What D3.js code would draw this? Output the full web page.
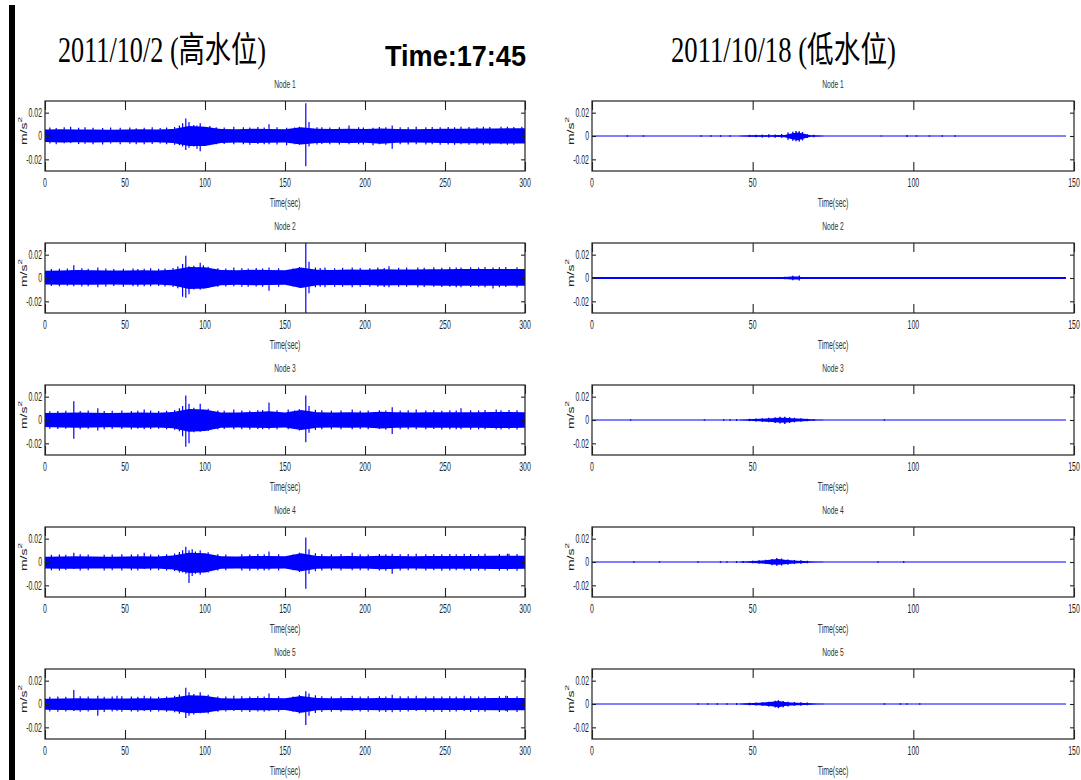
<!DOCTYPE html>
<html>
<head>
<meta charset="utf-8">
<script src="https://cdn.jsdelivr.net/npm/d3@7"></script>
<style>
  body { margin: 0; background: #fff; }
  svg { display: block; }
</style>
</head>
<body>
<svg id="chart" width="1081" height="780"></svg>
<script>
// ---------- acceleration records (m/s^2) ----------
// 2011/10/2 high-water record: envelope of the signal every 10 s, plus individual peaks
const envTimes = [0,10,20,30,40,50,60,70,80,90,100,110,120,130,140,150,160,170,180,190,200,210,220,230,240,250,260,270,280,290,300];

const hiN1 = [0.0055,0.0058,0.0056,0.0055,0.0054,0.0056,0.0057,0.0055,0.0060,0.0085,0.0080,0.0060,0.0058,0.0062,0.0060,0.0058,0.0075,0.0062,0.0060,0.0062,0.0060,0.0064,0.0060,0.0058,0.0060,0.0062,0.0063,0.0064,0.0065,0.0066,0.0066];
const loN1 = [-0.0052,-0.0055,-0.0054,-0.0055,-0.0053,-0.0054,-0.0055,-0.0054,-0.0060,-0.0085,-0.0085,-0.0060,-0.0056,-0.0060,-0.0058,-0.0056,-0.0072,-0.0060,-0.0058,-0.0060,-0.0058,-0.0066,-0.0058,-0.0056,-0.0058,-0.0060,-0.0062,-0.0062,-0.0064,-0.0064,-0.0064];
const hiN2 = [0.0062,0.0065,0.0068,0.0066,0.0064,0.0065,0.0066,0.0064,0.0070,0.0095,0.0092,0.0068,0.0066,0.0070,0.0068,0.0066,0.0090,0.0070,0.0068,0.0072,0.0070,0.0075,0.0072,0.0072,0.0074,0.0076,0.0077,0.0078,0.0078,0.0078,0.0078];
const loN2 = [-0.0055,-0.0058,-0.0058,-0.0057,-0.0056,-0.0057,-0.0058,-0.0056,-0.0065,-0.0095,-0.0090,-0.0062,-0.0058,-0.0062,-0.0060,-0.0058,-0.0085,-0.0062,-0.0060,-0.0062,-0.0060,-0.0064,-0.0062,-0.0062,-0.0064,-0.0066,-0.0066,-0.0066,-0.0067,-0.0066,-0.0066];
const hiN3 = [0.0060,0.0062,0.0064,0.0062,0.0060,0.0062,0.0064,0.0062,0.0068,0.0095,0.0090,0.0065,0.0064,0.0068,0.0075,0.0064,0.0085,0.0066,0.0064,0.0066,0.0064,0.0070,0.0066,0.0064,0.0066,0.0066,0.0066,0.0066,0.0068,0.0068,0.0066];
const loN3 = [-0.0060,-0.0064,-0.0066,-0.0064,-0.0062,-0.0064,-0.0066,-0.0064,-0.0070,-0.0100,-0.0095,-0.0066,-0.0064,-0.0066,-0.0068,-0.0064,-0.0085,-0.0066,-0.0064,-0.0066,-0.0064,-0.0072,-0.0066,-0.0064,-0.0066,-0.0066,-0.0066,-0.0066,-0.0068,-0.0068,-0.0066];
const hiN4 = [0.0045,0.0048,0.0050,0.0048,0.0046,0.0048,0.0050,0.0048,0.0055,0.0080,0.0075,0.0050,0.0048,0.0052,0.0052,0.0050,0.0075,0.0052,0.0050,0.0052,0.0050,0.0054,0.0052,0.0050,0.0052,0.0052,0.0052,0.0052,0.0054,0.0054,0.0054];
const loN4 = [-0.0055,-0.0058,-0.0058,-0.0056,-0.0055,-0.0056,-0.0058,-0.0056,-0.0065,-0.0095,-0.0090,-0.0058,-0.0056,-0.0058,-0.0058,-0.0056,-0.0080,-0.0058,-0.0056,-0.0058,-0.0056,-0.0062,-0.0058,-0.0056,-0.0058,-0.0058,-0.0058,-0.0058,-0.0060,-0.0060,-0.0058];
const hiN5 = [0.0045,0.0048,0.0050,0.0048,0.0047,0.0048,0.0050,0.0048,0.0055,0.0075,0.0070,0.0050,0.0048,0.0052,0.0052,0.0050,0.0068,0.0052,0.0050,0.0052,0.0050,0.0052,0.0050,0.0050,0.0050,0.0050,0.0050,0.0050,0.0052,0.0052,0.0052];
const loN5 = [-0.0050,-0.0052,-0.0054,-0.0052,-0.0050,-0.0052,-0.0054,-0.0052,-0.0058,-0.0080,-0.0075,-0.0054,-0.0052,-0.0054,-0.0054,-0.0052,-0.0075,-0.0054,-0.0052,-0.0054,-0.0052,-0.0054,-0.0052,-0.0052,-0.0052,-0.0052,-0.0052,-0.0052,-0.0054,-0.0054,-0.0054];

// large isolated peaks: [time s, max, min]
const peaksN1 = [[16,.008,-.006],[30,.007,-.007],[62,.007,-.007],[86,.011,-.009],[88,.015,-.012],[90,.012,-.010],[95,.009,-.011],[97,.011,-.013],[118,.008,-.007],[140,.010,-.007],[151,.007,-.008],[163,.028,-.026],[165,.012,-.009],[190,.009,-.007],[205,.007,-.008],[217,.009,-.011],[232,.008,-.007],[260,.008,-.007],[285,.008,-.007],[298,.008,-.006]];
const peaksN2 = [[18,.011,-.007],[33,.009,-.008],[62,.008,-.007],[86,.012,-.016],[88,.019,-.017],[90,.010,-.014],[97,.013,-.010],[99,.011,-.009],[118,.009,-.007],[140,.009,-.011],[163,.030,-.030],[165,.014,-.013],[175,.009,-.008],[192,.009,-.008],[215,.010,-.008],[233,.009,-.008],[260,.009,-.008],[280,.009,-.009]];
const peaksN3 = [[18,.016,-.016],[33,.010,-.009],[62,.009,-.008],[86,.012,-.014],[88,.021,-.023],[90,.014,-.020],[97,.014,-.010],[118,.009,-.008],[140,.015,-.008],[152,.009,-.008],[163,.021,-.019],[165,.012,-.011],[192,.009,-.008],[217,.011,-.012],[232,.009,-.008],[260,.010,-.008],[282,.009,-.008]];
const peaksN4 = [[18,.008,-.006],[62,.008,-.006],[86,.010,-.009],[88,.013,-.010],[90,.010,-.018],[92,.011,-.012],[97,.010,-.011],[140,.009,-.007],[163,.021,-.023],[165,.011,-.010],[192,.008,-.007],[217,.007,-.010],[232,.007,-.007],[262,.007,-.007],[290,.007,-.006]];
const peaksN5 = [[18,.012,-.006],[33,.007,-.010],[45,.007,-.006],[62,.007,-.006],[88,.014,-.012],[90,.010,-.010],[97,.010,-.008],[118,.007,-.006],[140,.009,-.006],[163,.011,-.018],[165,.009,-.010],[192,.007,-.006],[217,.008,-.007],[232,.007,-.006],[262,.007,-.006],[288,.007,-.006]];

// small excursions just outside the envelope: [time s, max, min]
const fringeN1 = [[3,.0072,-.0065],[7,.0068,-.0070],[12,.0075,-.0062],[21,.0070,-.0068],[25,.0074,-.0066],[36,.0068,-.0072],[41,.0073,-.0064],[47,.0070,-.0070],[53,.0072,-.0066],[57,.0066,-.0071],[67,.0074,-.0068],[72,.0069,-.0065],[76,.0072,-.0070],[81,.0078,-.0074],[84,.0090,-.0080],[93,.0095,-.0090],[103,.0085,-.0078],[107,.0074,-.0070],[112,.0072,-.0068],[124,.0075,-.0070],[128,.0072,-.0074],[133,.0078,-.0068],[137,.0072,-.0070],[145,.0074,-.0072],[156,.0072,-.0070],[159,.0080,-.0074],[170,.0076,-.0072],[173,.0074,-.0068],[178,.0072,-.0070],[184,.0076,-.0072],[196,.0074,-.0070],[199,.0072,-.0072],[209,.0078,-.0070],[213,.0074,-.0076],[222,.0074,-.0070],[227,.0076,-.0072],[238,.0074,-.0072],[242,.0078,-.0070],[247,.0074,-.0074],[252,.0078,-.0072],[256,.0076,-.0074],[265,.0078,-.0074],[270,.0076,-.0072],[274,.0080,-.0074],[278,.0078,-.0076],[289,.0080,-.0074],[293,.0078,-.0076]];
const fringeN2 = [[4,.0078,-.0068],[9,.0080,-.0070],[14,.0082,-.0066],[23,.0084,-.0072],[27,.0080,-.0070],[38,.0082,-.0072],[43,.0078,-.0068],[49,.0080,-.0074],[55,.0082,-.0070],[58,.0078,-.0072],[66,.0084,-.0070],[71,.0080,-.0068],[75,.0082,-.0072],[80,.0086,-.0078],[83,.0098,-.0088],[93,.0104,-.0098],[102,.0096,-.0086],[108,.0084,-.0074],[113,.0082,-.0072],[123,.0084,-.0074],[127,.0082,-.0076],[132,.0086,-.0072],[136,.0082,-.0074],[146,.0084,-.0074],[155,.0082,-.0072],[159,.0094,-.0084],[169,.0090,-.0080],[172,.0086,-.0076],[181,.0084,-.0074],[186,.0088,-.0076],[197,.0086,-.0074],[203,.0084,-.0076],[208,.0090,-.0076],[212,.0086,-.0078],[221,.0088,-.0076],[226,.0090,-.0074],[237,.0088,-.0078],[243,.0092,-.0076],[248,.0088,-.0078],[253,.0092,-.0076],[257,.0090,-.0080],[266,.0092,-.0078],[271,.0090,-.0076],[275,.0094,-.0080],[284,.0092,-.0080],[288,.0094,-.0078],[295,.0092,-.0080]];
const fringeN3 = [[3,.0076,-.0074],[8,.0078,-.0078],[13,.0080,-.0074],[22,.0078,-.0080],[27,.0082,-.0076],[37,.0078,-.0080],[42,.0080,-.0078],[48,.0082,-.0078],[54,.0078,-.0080],[58,.0080,-.0076],[66,.0082,-.0078],[71,.0078,-.0076],[76,.0080,-.0080],[81,.0086,-.0084],[84,.0100,-.0096],[93,.0104,-.0104],[102,.0096,-.0094],[108,.0082,-.0080],[112,.0080,-.0078],[123,.0082,-.0080],[128,.0080,-.0082],[133,.0084,-.0078],[136,.0086,-.0080],[145,.0084,-.0080],[156,.0082,-.0078],[159,.0092,-.0090],[169,.0088,-.0086],[173,.0084,-.0080],[179,.0080,-.0080],[185,.0082,-.0080],[197,.0080,-.0078],[202,.0082,-.0080],[209,.0084,-.0078],[213,.0082,-.0084],[222,.0082,-.0080],[227,.0084,-.0080],[238,.0082,-.0080],[243,.0084,-.0078],[248,.0080,-.0082],[253,.0084,-.0080],[257,.0082,-.0080],[266,.0084,-.0082],[271,.0082,-.0080],[275,.0086,-.0080],[285,.0084,-.0082],[290,.0086,-.0080],[295,.0084,-.0082]];
const fringeN4 = [[4,.0062,-.0070],[9,.0064,-.0072],[13,.0062,-.0068],[22,.0066,-.0072],[27,.0064,-.0070],[37,.0062,-.0072],[42,.0064,-.0070],[48,.0066,-.0072],[54,.0064,-.0070],[58,.0066,-.0072],[66,.0064,-.0070],[71,.0062,-.0070],[76,.0066,-.0072],[81,.0072,-.0078],[84,.0086,-.0090],[94,.0090,-.0100],[102,.0084,-.0090],[108,.0066,-.0072],[113,.0064,-.0070],[123,.0066,-.0072],[128,.0064,-.0074],[133,.0068,-.0070],[137,.0066,-.0072],[146,.0066,-.0072],[155,.0064,-.0070],[159,.0080,-.0086],[169,.0076,-.0080],[173,.0068,-.0072],[179,.0066,-.0070],[185,.0068,-.0072],[197,.0066,-.0070],[202,.0064,-.0072],[209,.0068,-.0072],[213,.0066,-.0074],[222,.0066,-.0072],[227,.0068,-.0070],[238,.0066,-.0072],[243,.0068,-.0070],[248,.0066,-.0074],[253,.0068,-.0072],[257,.0066,-.0070],[266,.0068,-.0074],[271,.0066,-.0072],[275,.0070,-.0072],[284,.0068,-.0074],[289,.0070,-.0072],[295,.0068,-.0074]];
const fringeN5 = [[3,.0062,-.0064],[8,.0064,-.0066],[13,.0062,-.0064],[22,.0066,-.0066],[27,.0064,-.0064],[37,.0062,-.0068],[42,.0064,-.0064],[48,.0066,-.0066],[54,.0064,-.0064],[58,.0062,-.0066],[66,.0064,-.0066],[71,.0062,-.0064],[76,.0064,-.0066],[81,.0070,-.0070],[84,.0082,-.0084],[93,.0086,-.0090],[102,.0080,-.0082],[108,.0064,-.0066],[113,.0064,-.0064],[123,.0066,-.0066],[128,.0064,-.0068],[133,.0066,-.0064],[137,.0064,-.0066],[146,.0066,-.0066],[155,.0064,-.0066],[159,.0078,-.0082],[169,.0074,-.0078],[173,.0066,-.0068],[179,.0064,-.0066],[185,.0066,-.0066],[197,.0064,-.0064],[202,.0066,-.0066],[209,.0066,-.0066],[213,.0064,-.0068],[222,.0066,-.0066],[227,.0066,-.0064],[238,.0064,-.0066],[243,.0066,-.0066],[248,.0064,-.0068],[253,.0066,-.0066],[257,.0064,-.0064],[266,.0066,-.0068],[271,.0064,-.0066],[275,.0066,-.0066],[284,.0066,-.0068],[289,.0068,-.0066],[295,.0066,-.0068]];

// 2011/10/18 low-water record: quiet trace with one burst (envelope every 2 s) and small blips
const recordSpanHigh = [0, 300];
const recordSpanLow = [0, 147.5];
const burstTimes = [46,48,50,52,54,56,58,60,62,64,66,68,70,72];

const burstHiN1 = [0.0002,0.0004,0.0006,0.0006,0.0007,0.0007,0.0008,0.0009,0.0022,0.0030,0.0020,0.0007,0.0004,0.0002];
const burstLoN1 = [-0.0002,-0.0004,-0.0006,-0.0006,-0.0007,-0.0007,-0.0008,-0.0010,-0.0026,-0.0036,-0.0022,-0.0007,-0.0004,-0.0002];
const burstHiN2 = [0.0002,0.0002,0.0003,0.0003,0.0004,0.0005,0.0006,0.0008,0.0012,0.0012,0.0005,0.0003,0.0002,0.0002];
const burstLoN2 = [-0.0002,-0.0002,-0.0003,-0.0003,-0.0004,-0.0005,-0.0006,-0.0008,-0.0012,-0.0012,-0.0005,-0.0003,-0.0002,-0.0002];
const burstHiN3 = [0.0003,0.0005,0.0008,0.0010,0.0013,0.0016,0.0019,0.0020,0.0016,0.0013,0.0010,0.0007,0.0003,0.0002];
const burstLoN3 = [-0.0003,-0.0005,-0.0008,-0.0011,-0.0014,-0.0018,-0.0022,-0.0023,-0.0018,-0.0013,-0.0010,-0.0007,-0.0003,-0.0002];
const burstHiN4 = [0.0003,0.0005,0.0008,0.0011,0.0016,0.0022,0.0025,0.0019,0.0014,0.0011,0.0008,0.0005,0.0003,0.0002];
const burstLoN4 = [-0.0003,-0.0005,-0.0008,-0.0011,-0.0016,-0.0022,-0.0024,-0.0019,-0.0014,-0.0011,-0.0008,-0.0005,-0.0003,-0.0002];
const burstHiN5 = [0.0003,0.0006,0.0008,0.0010,0.0014,0.0020,0.0025,0.0017,0.0013,0.0010,0.0008,0.0006,0.0003,0.0002];
const burstLoN5 = [-0.0003,-0.0006,-0.0008,-0.0010,-0.0014,-0.0020,-0.0027,-0.0017,-0.0013,-0.0010,-0.0008,-0.0006,-0.0003,-0.0002];

const blipsN1 = [[11,.0006,-.0006],[16,.0006,-.0006],[34,.0006,-.0006],[37,.0006,-.0006],[40,.0007,-.0007],[43,.0006,-.0006],[49,.0010,-.0009],[51,.0011,-.0010],[53,.0012,-.0013],[55,.0014,-.0012],[57,.0013,-.0014],[59,.0017,-.0015],[61,.0030,-.0032],[62.5,.0036,-.0040],[63.5,.0042,-.0046],[64.5,.0040,-.0048],[65.5,.0034,-.0038],[67,.0016,-.0018],[69,.0011,-.0010],[90,.0005,-.0005],[98,.0008,-.0008],[101,.0006,-.0006],[105,.0006,-.0006],[109,.0006,-.0006],[113,.0007,-.0007]];
const blipsN2 = [[56,.0008,-.0008],[58,.0009,-.0009],[60,.0010,-.0010],[62.5,.0020,-.0020],[64.5,.0021,-.0021],[74,.0006,-.0006],[98,.0006,-.0006]];
const blipsN3 = [[12,.0006,-.0006],[35,.0006,-.0006],[41,.0007,-.0007],[43,.0007,-.0007],[45,.0008,-.0008],[49,.0011,-.0010],[51,.0013,-.0012],[53,.0015,-.0016],[55,.0019,-.0020],[57,.0024,-.0026],[58.5,.0028,-.0031],[60,.0027,-.0034],[61.5,.0024,-.0026],[63,.0019,-.0020],[65,.0015,-.0014],[67,.0011,-.0010],[69,.0008,-.0007],[91,.0006,-.0006]];
const blipsN4 = [[13,.0006,-.0006],[21,.0006,-.0006],[33,.0006,-.0006],[40,.0007,-.0007],[42,.0007,-.0007],[45,.0008,-.0008],[47,.0008,-.0008],[50,.0012,-.0011],[52,.0014,-.0015],[54,.0019,-.0018],[56,.0026,-.0027],[57.5,.0034,-.0033],[59,.0029,-.0030],[61,.0022,-.0023],[63,.0018,-.0017],[65,.0014,-.0014],[67,.0011,-.0010],[89,.0006,-.0006],[97,.0007,-.0007]];
const blipsN5 = [[33,.0006,-.0006],[36,.0006,-.0006],[39,.0007,-.0007],[42,.0007,-.0007],[45,.0008,-.0008],[49,.0011,-.0011],[51,.0013,-.0012],[53,.0015,-.0016],[55,.0020,-.0021],[57,.0028,-.0030],[58,.0033,-.0036],[59.5,.0026,-.0027],[61,.0020,-.0021],[63,.0017,-.0016],[65,.0014,-.0014],[67,.0012,-.0011],[91,.0006,-.0006],[96,.0007,-.0007],[98,.0007,-.0007],[102,.0006,-.0006]];

// axis ticks and labels
const xTicksHigh = [0,50,100,150,200,250,300];
const xTicksLow = [0,50,100,150];
const yTicks = [-0.02, 0, 0.02];
const yTickLabels = ["-0.02", "0", "0.02"];
const nodeNames = ["Node 1","Node 2","Node 3","Node 4","Node 5"];
const titleHigh = "2011/10/2 (高水位)";
const titleLow = "2011/10/18 (低水位)";
const timeStamp = "Time:17:45";

// ---------- layout ----------
const svg = d3.select("#chart");
const panelTop0 = 101, panelStep = 142, panelH = 70;
const colHigh = { x0: 45, x1: 525 };
const colLow = { x0: 592, x1: 1074 };
const SIG = "#0000ff";
const NARROW = 0.58;

svg.append("rect").attr("x", 9).attr("y", 5).attr("width", 6).attr("height", 775).attr("fill", "#000");

const serif = "'Liberation Serif','Noto Sans CJK TC',serif";
svg.append("text").attr("x", 58).attr("y", 62)
  .attr("font-family", serif).attr("font-size", 35)
  .attr("textLength", 208).attr("lengthAdjust", "spacingAndGlyphs")
  .attr("fill", "#000").text(titleHigh);
svg.append("text").attr("x", 671).attr("y", 62)
  .attr("font-family", serif).attr("font-size", 35)
  .attr("textLength", 225).attr("lengthAdjust", "spacingAndGlyphs")
  .attr("fill", "#000").text(titleLow);
svg.append("text").attr("x", 385).attr("y", 66)
  .attr("font-family", "'Liberation Sans',Arial,sans-serif").attr("font-weight", "bold").attr("font-size", 30)
  .attr("textLength", 141).attr("lengthAdjust", "spacingAndGlyphs")
  .attr("fill", "#000").text(timeStamp);

function narrowText(g, x, y, str, size, fill) {
  g.append("text")
    .attr("transform", `translate(${x},${y}) scale(${NARROW},1)`)
    .attr("text-anchor", "middle").attr("dominant-baseline", "central")
    .attr("font-family", "'Liberation Sans',Arial,sans-serif")
    .attr("font-size", size).attr("fill", fill).text(str);
}

function drawPanel(col, i, domainX, ticksX, sig) {
  const top = panelTop0 + i * panelStep;
  const x = d3.scaleLinear().domain(domainX).range([col.x0, col.x1]);
  const y = d3.scaleLinear().domain([-0.03, 0.03]).range([top + panelH, top]);
  const g = svg.append("g");
  const cx = (col.x0 + col.x1) / 2;

  const plot = g.append("g");
  if (sig.span) {
    plot.append("line")
      .attr("x1", x(sig.span[0])).attr("x2", x(sig.span[1]))
      .attr("y1", y(0)).attr("y2", y(0))
      .attr("stroke", SIG).attr("stroke-width", sig.lineW);
  }
  const pts = sig.times.map((t, k) => ({ t, hi: sig.hi[k], lo: sig.lo[k] }));
  plot.append("path").datum(pts)
    .attr("d", d3.area().x(d => x(d.t)).y0(d => y(d.lo)).y1(d => y(d.hi)))
    .attr("fill", SIG);
  sig.marks.forEach(set => {
    plot.append("g").selectAll("line").data(set.data).join("line")
      .attr("x1", d => x(d[0])).attr("x2", d => x(d[0]))
      .attr("y1", d => y(d[1])).attr("y2", d => y(d[2]))
      .attr("stroke", SIG).attr("stroke-width", set.w);
  });

  // frame
  g.append("rect").attr("x", col.x0).attr("y", top)
    .attr("width", col.x1 - col.x0).attr("height", panelH)
    .attr("fill", "none").attr("stroke", "#222").attr("stroke-width", 1.2);

  // inward ticks on all four sides
  const styleAxis = sel => {
    sel.select(".domain").remove();
    sel.selectAll(".tick line").attr("stroke", "#222").attr("stroke-width", 1.1);
  };
  g.append("g").attr("transform", `translate(0,${top + panelH})`)
    .call(d3.axisBottom(x).tickValues(ticksX).tickSize(-9).tickFormat("")).call(styleAxis);
  g.append("g").attr("transform", `translate(0,${top})`)
    .call(d3.axisTop(x).tickValues(ticksX).tickSize(-9).tickFormat("")).call(styleAxis);
  g.append("g").attr("transform", `translate(${col.x0},0)`)
    .call(d3.axisLeft(y).tickValues(yTicks).tickSize(-4).tickFormat("")).call(styleAxis);
  g.append("g").attr("transform", `translate(${col.x1},0)`)
    .call(d3.axisRight(y).tickValues(yTicks).tickSize(-4).tickFormat("")).call(styleAxis);

  ticksX.forEach(t => narrowText(g, x(t), top + panelH + 12, String(t), 12, "#222"));
  yTicks.forEach((v, k) => {
    g.append("text")
      .attr("transform", `translate(${col.x0 - 3},${y(v)}) scale(${NARROW},1)`)
      .attr("text-anchor", "end").attr("dominant-baseline", "central")
      .attr("font-family", "'Liberation Sans',Arial,sans-serif")
      .attr("font-size", 12).attr("fill", "#222").text(yTickLabels[k]);
  });

  narrowText(g, cx, top - 17, nodeNames[i], 11.5, "#333");
  narrowText(g, cx, top + panelH + 32, "Time(sec)", 12, "#333");

  const yl = g.append("text")
    .attr("transform", `translate(${col.x0 - 22},${top + 30}) rotate(-90) scale(1,0.62)`)
    .attr("text-anchor", "middle").attr("dominant-baseline", "central")
    .attr("font-family", "'Liberation Sans',Arial,sans-serif")
    .attr("font-size", 14).attr("fill", "#222");
  yl.append("tspan").text("m/s");
  yl.append("tspan").attr("dy", -5).attr("font-size", 10).text("2");
}

const highHi = [hiN1, hiN2, hiN3, hiN4, hiN5];
const highLo = [loN1, loN2, loN3, loN4, loN5];
const highPeaks = [peaksN1, peaksN2, peaksN3, peaksN4, peaksN5];
const highFringe = [fringeN1, fringeN2, fringeN3, fringeN4, fringeN5];
const lowHi = [burstHiN1, burstHiN2, burstHiN3, burstHiN4, burstHiN5];
const lowLo = [burstLoN1, burstLoN2, burstLoN3, burstLoN4, burstLoN5];
const lowBlips = [blipsN1, blipsN2, blipsN3, blipsN4, blipsN5];

for (let i = 0; i < 5; i++) {
  drawPanel(colHigh, i, recordSpanHigh, xTicksHigh,
    { times: envTimes, hi: highHi[i], lo: highLo[i],
      marks: [{ data: highFringe[i], w: 1.2 }, { data: highPeaks[i], w: 1.2 }] });
  drawPanel(colLow, i, [0, 150], xTicksLow,
    { times: burstTimes, hi: lowHi[i], lo: lowLo[i],
      marks: [{ data: lowBlips[i], w: 1.4 }],
      span: recordSpanLow, lineW: i === 1 ? 2.2 : 1.2 });
}
</script>
</body>
</html>
